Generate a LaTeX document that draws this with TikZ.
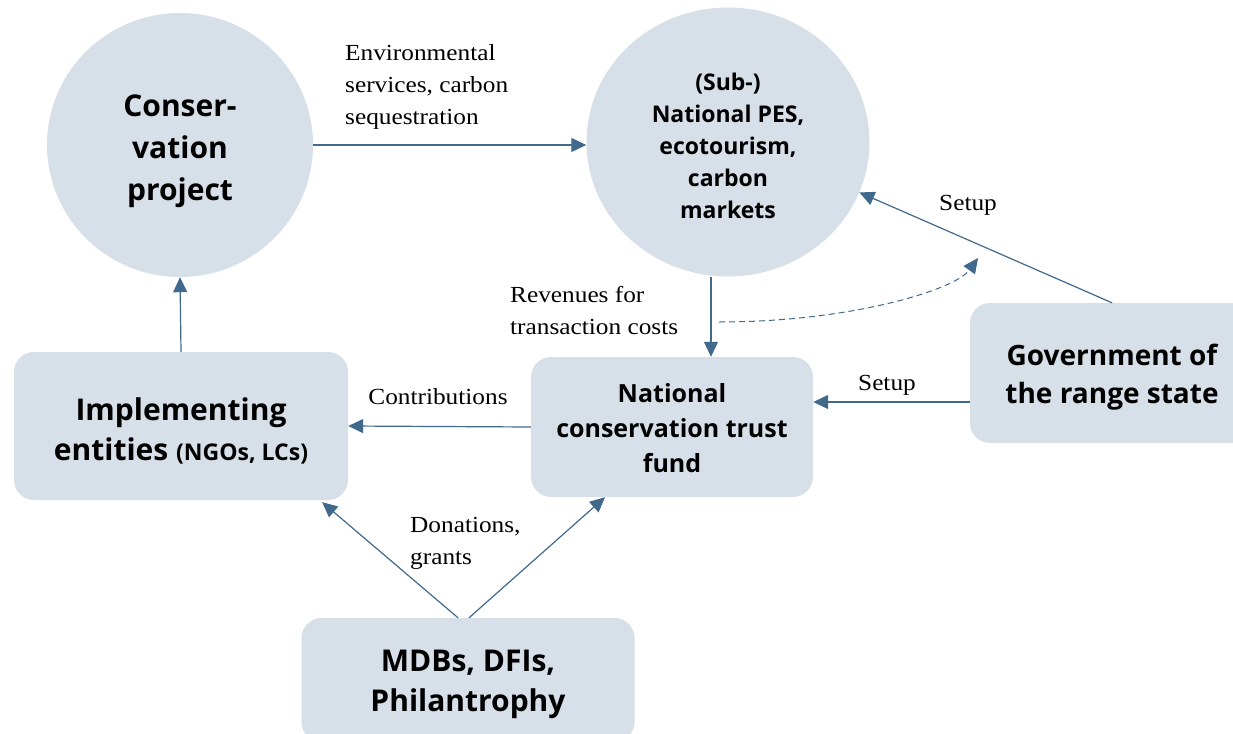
\documentclass[tikz,border=0pt]{standalone}
\usepackage{fontspec}
\setmainfont{Liberation Serif}[FakeStretch=1.1]
\newfontfamily\headfont{Open Sans}
\usetikzlibrary{shapes.geometric, arrows.meta, positioning, calc}
\definecolor{boxfill}{HTML}{D7DFE8}
\definecolor{flowline}{HTML}{41698C}
% lowers a stack of centred lines inside its shape
\newcommand{\droptext}[2]{\raisebox{-#1}[\height][\depth]{\begin{tabular}{@{}c@{}}#2\end{tabular}}}

\begin{document}
\begin{tikzpicture}[x=1pt, y=-1pt]
        \tikzstyle{roundbox} = [rectangle, fill=boxfill, rounded corners=20pt, align=center, inner sep=0pt]
        \tikzstyle{bubble} = [ellipse, fill=boxfill, align=center, inner sep=0pt]
        \tikzstyle{line} = [draw=flowline, line width=1.2pt, -{Triangle[length=15pt, width=14pt]}]
        \tikzstyle{note} = [font=\fontsize{23}{32}\selectfont, align=left, inner sep=0pt]

        \useasboundingbox (0,0) rectangle (1233,733);

        \node [bubble, minimum width=266pt, minimum height=264pt, font=\headfont\bfseries\fontsize{30}{42}\selectfont] (project) at (180,145) {\droptext{5pt}{Conser-\\vation\\project}};
        \node [bubble, minimum width=283pt, minimum height=269pt, font=\headfont\bfseries\fontsize{23}{32}\selectfont] (pes) at (728,142) {\droptext{6.5pt}{(Sub-)\\National PES,\\ecotourism,\\carbon\\markets}};

        \node [roundbox, minimum width=334pt, minimum height=148pt, font=\headfont\bfseries\fontsize{30}{40}\selectfont] (impl) at (181,426) {\droptext{6pt}{Implementing\\entities {\fontsize{23}{40}\selectfont (NGOs, LCs)}}};
        \node [roundbox, minimum width=282pt, minimum height=140pt, font=\headfont\bfseries\fontsize{25}{35}\selectfont] (fund) at (672,427) {\droptext{3pt}{National\\conservation trust\\fund}};
        \node [roundbox, minimum width=284pt, minimum height=140pt, font=\headfont\bfseries\fontsize{28}{38}\selectfont] (gov) at (1112,373) {\droptext{4pt}{Government of\\the range state}};
        \node [roundbox, minimum width=333pt, minimum height=124pt, font=\headfont\bfseries\fontsize{30}{40}\selectfont] (mdb) at (468,680) {\droptext{3pt}{MDBs, DFIs,\\Philantrophy}};

        \node [note, anchor=west] (envlabel) at (345,87) {Environmental\\services, carbon\\sequestration};
        \node [note, anchor=west] (revlabel) at (510,311) {Revenues for\\transaction costs};
        \node [note] (setupupper) at (968,205) {Setup};
        \node [note] (setuplower) at (887,385) {Setup};
        \node [note] (contlabel) at (438,397) {Contributions};
        \node [note, anchor=west] (donlabel) at (410,543) {Donations,\\grants};

        \coordinate (dashstart) at (719,322);
        \coordinate (dashend) at (978,258);

        \path [line] (project.east) -- (project.east -| pes.west);
        \path [line] (impl.north) -- (project.south);
        \path [line] ([xshift=-17pt]pes.south) -- ($(fund.north)+(39,0)$);
        \path [line] (fund.west) -- (impl.east);
        \path [line] ($(gov.west)+(0,29)$) -- ($(fund.east)+(0,-25)$);
        \path [line] (gov.north) -- (pes.-21);
        \path [line] ($(mdb.north)+(-10,0)$) -- ($(impl.south east)+(-26,2)$);
        \path [line] ($(mdb.north)+(1,0)$) -- ($(fund.south)+(-67,0)$);
        \path [line, line width=1pt, dash pattern=on 6pt off 4pt] (dashstart) .. controls (850,322) and (955,290) .. (dashend);
\end{tikzpicture}
\end{document}
